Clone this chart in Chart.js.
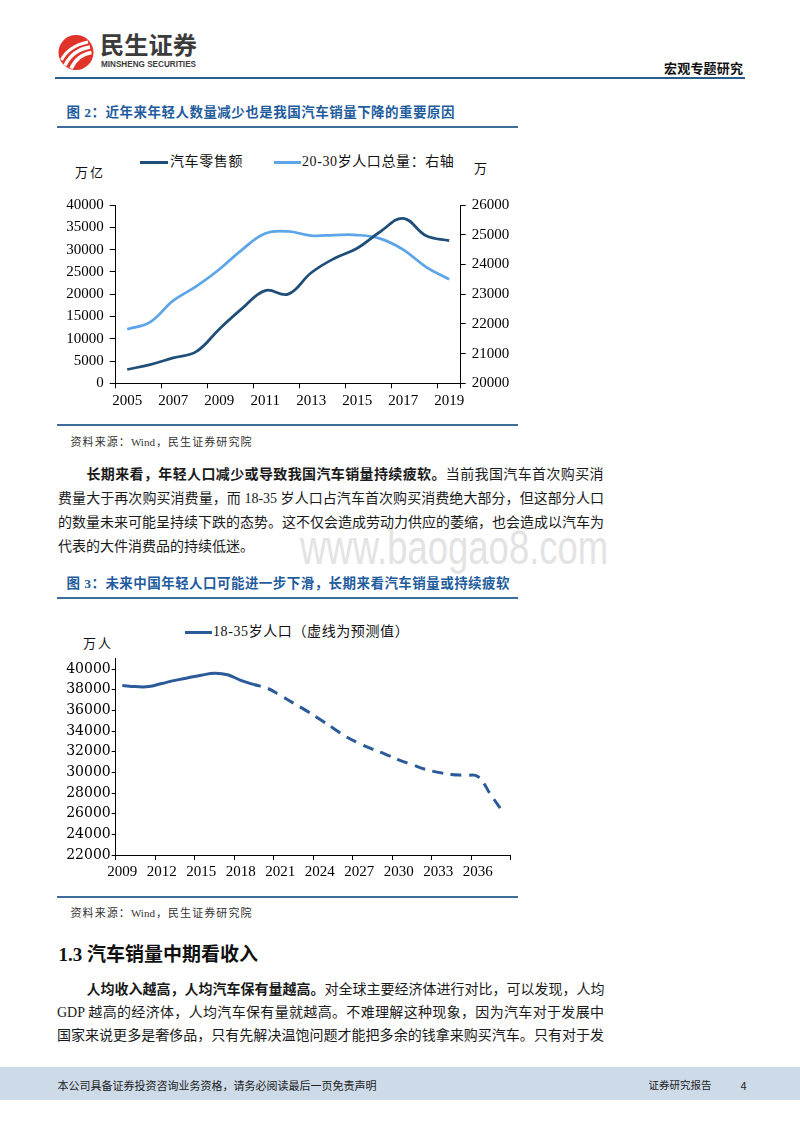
<!DOCTYPE html>
<html lang="zh-CN">
<head>
<meta charset="utf-8">
<script src="https://cdn.jsdelivr.net/npm/chart.js@4.4.0/dist/chart.umd.min.js"></script>
<style>
  html, body { margin: 0; padding: 0; background: #fff; }
  body { width: 800px; height: 1132px; position: relative; overflow: hidden;
         font-family: 'Liberation Serif', 'Noto Sans CJK SC', serif; color: #1a1a1a; }
  .abs { position: absolute; white-space: nowrap; }
  .jl { text-align: justify; text-align-last: justify; }
  .rule { position: absolute; height: 2px; background: #3e6d9c; }
  .title { font-size: 13.5px; line-height: 18px; font-weight: 700; color: #1f5c9e; }
  .src { font-size: 11px; line-height: 14px; color: #333; }
  .body { font-size: 14px; line-height: 20px; }
  .lg { font-size: 14px; line-height: 18px; color: #111; letter-spacing: 0.6px; }
  .unit { font-size: 13px; line-height: 16px; color: #111; }
  canvas { position: absolute; }
</style>
</head>
<body>

<!-- 页眉 -->
<svg class="abs" style="left:50px;top:28px" width="160" height="48" viewBox="50 28 160 48">
  <circle cx="76" cy="52.5" r="17.5" fill="#E0342B"/>
  <path d="M61.5 60 C66 51 74 45 88 42" stroke="#fff" stroke-width="3" fill="none"/>
  <path d="M65 65.5 C70 55 78 49 90 47" stroke="#fff" stroke-width="3.4" fill="none"/>
  <path d="M71 68.5 C75 60 82 54 91.5 52.5" stroke="#fff" stroke-width="3.6" fill="none"/>
  <text x="100" y="54" font-size="24" font-weight="700" fill="#3b3b3b" textLength="97"
        lengthAdjust="spacingAndGlyphs" font-family="Noto Sans CJK SC">民生证券</text>
  <text x="101" y="66.7" font-size="9" font-weight="700" fill="#3b3b3b" textLength="95"
        lengthAdjust="spacingAndGlyphs" font-family="Liberation Sans">MINSHENG SECURITIES</text>
</svg>
<div class="abs jl" style="left:664px;top:60px;width:79px;font-size:13px;line-height:17px;font-weight:700;color:#111;">宏观专题研究</div>
<div class="abs" style="left:55px;top:76.5px;width:690px;height:2px;background:#2b5d8c;"></div>

<!-- 图 2 -->
<div class="abs jl title" style="left:66.5px;top:104px;width:388px;">图 2：近年来年轻人数量减少也是我国汽车销量下降的重要原因</div>
<div class="rule" style="left:57px;top:126px;width:461px;"></div>

<div class="abs" style="left:140px;top:160.5px;width:28px;height:3px;background:#1F4E79;"></div>
<div class="abs lg" style="left:170px;top:152.5px;">汽车零售额</div>
<div class="abs" style="left:274px;top:160.5px;width:27px;height:3px;background:#5DA5E8;"></div>
<div class="abs lg" style="left:302px;top:152.5px;">20-30岁人口总量：右轴</div>
<div class="abs unit" style="left:75px;top:165px;letter-spacing:2px;">万亿</div>
<div class="abs unit" style="left:474px;top:161px;">万</div>

<canvas id="c1" width="460" height="230" style="left:50px;top:190px;"></canvas>

<div class="rule" style="left:57px;top:424px;width:461px;"></div>
<div class="abs jl src" style="left:70.5px;top:435px;width:181px;">资料来源：Wind，民生证券研究院</div>

<!-- 水印 -->
<div class="abs" style="left:300px;top:524px;font-family:'Liberation Sans',sans-serif;font-size:48px;line-height:48px;color:#e3e3e3;transform:scaleX(0.76);transform-origin:0 0;">www.baogao8.com</div>

<div class="abs jl body" style="left:86.5px;top:465px;width:517px;"><b>长期来看，年轻人口减少或导致我国汽车销量持续疲软。</b>当前我国汽车首次购买消</div>
<div class="abs jl body" style="left:58px;top:489px;width:546px;">费量大于再次购买消费量，而 18-35 岁人口占汽车首次购买消费绝大部分，但这部分人口</div>
<div class="abs jl body" style="left:58px;top:513px;width:546px;">的数量未来可能呈持续下跌的态势。这不仅会造成劳动力供应的萎缩，也会造成以汽车为</div>
<div class="abs body" style="left:58px;top:537px;">代表的大件消费品的持续低迷。</div>

<!-- 图 3 -->
<div class="abs jl title" style="left:66.5px;top:575px;width:443px;">图 3：未来中国年轻人口可能进一步下滑，长期来看汽车销量或持续疲软</div>
<div class="rule" style="left:57px;top:597px;width:461px;"></div>

<div class="abs" style="left:185px;top:631px;width:27px;height:3px;background:#2A5A98;"></div>
<div class="abs lg" style="left:213px;top:623px;">18-35岁人口（虚线为预测值）</div>
<div class="abs unit" style="left:83px;top:636px;letter-spacing:2px;">万人</div>

<canvas id="c2" width="470" height="250" style="left:50px;top:640px;"></canvas>

<div class="rule" style="left:57px;top:895.5px;width:461px;"></div>
<div class="abs jl src" style="left:70.5px;top:906px;width:181px;">资料来源：Wind，民生证券研究院</div>

<!-- 1.3 -->
<div class="abs" style="left:58.5px;top:942px;font-size:19px;line-height:26px;font-weight:700;color:#111;">1.3 汽车销量中期看收入</div>
<div class="abs jl body" style="left:86.5px;top:980px;width:517px;"><b>人均收入越高，人均汽车保有量越高。</b>对全球主要经济体进行对比，可以发现，人均</div>
<div class="abs jl body" style="left:57px;top:1003px;width:547px;">GDP 越高的经济体，人均汽车保有量就越高。不难理解这种现象，因为汽车对于发展中</div>
<div class="abs jl body" style="left:57px;top:1026px;width:547px;">国家来说更多是奢侈品，只有先解决温饱问题才能把多余的钱拿来购买汽车。只有对于发</div>

<!-- 页脚 -->
<div class="abs" style="left:0;top:1066.5px;width:800px;height:33.5px;background:#cddae8;"></div>
<div class="abs jl" style="left:57.5px;top:1077px;width:314px;font-family:'Noto Sans CJK SC',sans-serif;font-size:11px;line-height:16px;color:#222;">本公司具备证券投资咨询业务资格，请务必阅读最后一页免责声明</div>
<div class="abs jl" style="left:648.5px;top:1077px;width:61.5px;font-family:'Noto Sans CJK SC',sans-serif;font-size:10.5px;line-height:16px;color:#222;">证券研究报告</div>
<div class="abs" style="left:740.5px;top:1077px;font-family:'Noto Sans CJK SC',sans-serif;font-size:11px;line-height:16px;color:#222;">4</div>

<script>
// 图2 数据
const years1 = ['2005', '2006', '2007', '2008', '2009', '2010', '2011', '2012',
                '2013', '2014', '2015', '2016', '2017', '2018', '2019'];
const carRetail = [3100, 4200, 5700, 7100, 12150, 16800, 20800, 20000,
                   24800, 28000, 30300, 34000, 37000, 33100, 32000];
const youth2030 = [21820, 22060, 22780, 23260, 23830, 24500, 25040, 25110,
                   24970, 24990, 24990, 24870, 24500, 23910, 23500];

// 图3 数据
const years2 = ['2009', '2010', '2011', '2012', '2013', '2014', '2015', '2016', '2017', '2018',
                '2019', '2020', '2021', '2022', '2023', '2024', '2025', '2026', '2027', '2028',
                '2029', '2030', '2031', '2032', '2033', '2034', '2035', '2036', '2037', '2038'];
const youth1835 = [38400, 38300, 38300, 38600, 38900, 39150, 39400, 39600, 39450, 38900,
                   38500, 38150, 37450, 36700, 35950, 35150, 34300, 33450, 32800, 32250,
                   31750, 31200, 30750, 30300, 30000, 29800, 29700, 29600, 27800, 26000];
const yTicks2 = [22000, 24000, 26000, 28000, 30000, 32000, 34000, 36000, 38000, 40000];
const forecastFrom = 10; // 2019 之后为预测值

const serif = 'Liberation Serif';
const plain = v => String(v); // 不要千位分隔符

function tickGrid(every, len) {
    // 只在每隔 every 个类别处画刻度线，末尾那根也画
    return {
        offset: true,
        drawOnChartArea: false,
        drawTicks: true,
        tickLength: len,
        color: ctx => (ctx.index === undefined || ctx.index % every === 0) ? '#000' : 'rgba(0,0,0,0)'
    };
}

new Chart(document.getElementById('c1'), {
    type: 'line',
    data: {
        labels: years1,
        datasets: [
            { label: '汽车零售额', data: carRetail, yAxisID: 'y',
              borderColor: '#1F4E79', borderWidth: 2.75, pointRadius: 0, tension: 0.4 },
            { label: '20-30岁人口总量：右轴', data: youth2030, yAxisID: 'y1',
              borderColor: '#5DA5E8', borderWidth: 2.75, pointRadius: 0, tension: 0.4 }
        ]
    },
    options: {
        responsive: false,
        animation: false,
        devicePixelRatio: 1,
        layout: { padding: { top: 13.3, left: 0, right: 0, bottom: 0 } },
        plugins: { legend: { display: false }, tooltip: { enabled: false } },
        scales: {
            x: {
                offset: true,
                grid: tickGrid(2, 5),
                border: { display: true, color: '#000', width: 1 },
                ticks: { autoSkip: false, maxRotation: 0, padding: 4, color: '#000',
                         font: { family: serif, size: 15 },
                         callback: (v, i) => i % 2 === 0 ? years1[i] : '' },
                afterFit: s => { s.height = 36.7; }
            },
            y: {
                position: 'left', min: 0, max: 40000,
                grid: { drawOnChartArea: false, tickLength: 6, color: '#000' },
                border: { display: true, color: '#000', width: 1 },
                ticks: { stepSize: 5000, padding: 6, color: '#000', callback: plain,
                         font: { family: serif, size: 15 } },
                afterFit: s => { s.width = 65.7; }
            },
            y1: {
                position: 'right', min: 20000, max: 26000,
                grid: { drawOnChartArea: false, tickLength: 5, color: '#000' },
                border: { display: true, color: '#000', width: 1 },
                ticks: { stepSize: 1000, padding: 6, color: '#000', callback: plain,
                         font: { family: serif, size: 15 } },
                afterFit: s => { s.width = 49.3; }
            }
        }
    }
});

new Chart(document.getElementById('c2'), {
    type: 'line',
    data: {
        labels: years2,
        datasets: [
            { label: '18-35岁人口（虚线为预测值）', data: youth1835,
              borderColor: '#2A5A98', borderWidth: 3, pointRadius: 0, tension: 0.4,
              segment: {
                  borderDash: ctx => ctx.p0DataIndex >= forecastFrom ? [11, 7.5] : undefined,
                  borderDashOffset: ctx => ctx.p0DataIndex >= forecastFrom ? 4 : 0
              } }
        ]
    },
    options: {
        responsive: false,
        animation: false,
        devicePixelRatio: 1,
        layout: { padding: { top: 18.7, left: 0, right: 9.3, bottom: 0 } },
        plugins: { legend: { display: false }, tooltip: { enabled: false } },
        scales: {
            x: {
                offset: true,
                grid: tickGrid(3, 5),
                border: { display: true, color: '#000', width: 1 },
                ticks: { autoSkip: false, maxRotation: 0, padding: 3, color: '#000',
                         font: { family: serif, size: 15 },
                         callback: (v, i) => (i % 3 === 0 && i < 28) ? years2[i] : '' },
                afterFit: s => { s.height = 35; }
            },
            y: {
                min: 22000, max: 41000,
                grid: { drawOnChartArea: false, tickLength: 4, color: '#000' },
                border: { display: true, color: '#000', width: 1 },
                ticks: { padding: 1, color: '#000', callback: plain,
                         font: { family: 'DejaVu Serif', size: 14 } },
                afterBuildTicks: s => { s.ticks = yTicks2.map(v => ({ value: v })); },
                afterFit: s => { s.width = 65.7; }
            }
        }
    }
});
</script>
</body>
</html>
